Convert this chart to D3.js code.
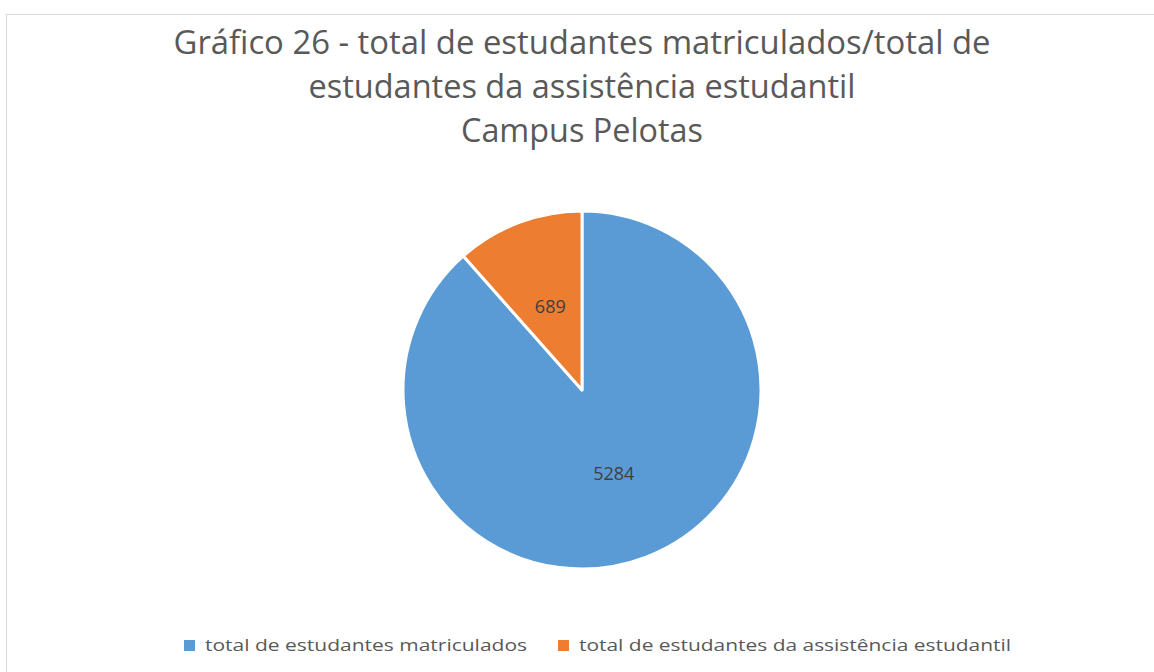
<!DOCTYPE html>
<html>
<head>
<meta charset="utf-8">
<script src="https://cdn.jsdelivr.net/npm/d3@7"></script>
<style>
  body { margin: 0; background: #fff; }
  svg { display: block; font-family: "Open Sans", "Noto Sans", sans-serif; }
</style>
</head>
<body>
<div id="chart"></div>
<script>
// Chart values
var categories = ["total de estudantes matriculados", "total de estudantes da assistência estudantil"];
var values = [5284, 689];
var colors = ["#5b9bd5", "#ed7d31"];
var titleLines = ["Gráfico 26 - total de estudantes matriculados/total de",
                  "estudantes da assistência estudantil",
                  "Campus Pelotas"];

var width = 1154, height = 672;
var cx = 582, cy = 390, radius = 179;

var svg = d3.select("#chart")
  .append("svg")
  .attr("width", width)
  .attr("height", height);

// chart area border
svg.append("rect")
  .attr("x", 6.5)
  .attr("y", 14.5)
  .attr("width", width)
  .attr("height", height)
  .attr("fill", "#fff")
  .attr("stroke", "#d9d9d9");

// title
svg.selectAll(".title")
  .data(titleLines)
  .enter().append("text")
  .attr("class", "title")
  .attr("x", 582)
  .attr("y", function(d, i) { return 54 + i * 44; })
  .attr("text-anchor", "middle")
  .attr("font-size", 32)
  .attr("fill", "#595959")
  .attr("textLength", function(d, i) { return [817, 547, 242][i]; })
  .attr("lengthAdjust", "spacingAndGlyphs")
  .text(function(d) { return d; });

// pie
var pie = d3.pie().sort(null).value(function(d) { return d; });
var arc = d3.arc().innerRadius(0).outerRadius(radius);
var labelArc = d3.arc().innerRadius(radius * 0.5).outerRadius(radius * 0.5);

var g = svg.append("g").attr("transform", "translate(" + cx + "," + cy + ")");
var arcs = pie(values);

g.selectAll("path")
  .data(arcs)
  .enter().append("path")
  .attr("d", arc)
  .attr("fill", function(d, i) { return colors[i]; })
  .attr("stroke", "#fff")
  .attr("stroke-width", 3)
  .attr("stroke-linejoin", "round");

g.selectAll(".lbl")
  .data(arcs)
  .enter().append("text")
  .attr("class", "lbl")
  .attr("transform", function(d) { return "translate(" + labelArc.centroid(d) + ")"; })
  .attr("dy", "0.35em")
  .attr("text-anchor", "middle")
  .attr("font-size", 18)
  .attr("fill", "#404040")
  .text(function(d) { return d.data; });

// legend
var legendX = [184, 558];
var leg = svg.selectAll(".leg")
  .data(categories)
  .enter().append("g")
  .attr("class", "leg")
  .attr("transform", function(d, i) { return "translate(" + legendX[i] + ",640)"; });

leg.append("rect")
  .attr("width", 11)
  .attr("height", 11)
  .attr("fill", function(d, i) { return colors[i]; });

leg.append("text")
  .attr("x", 21)
  .attr("y", 11)
  .attr("font-size", 16)
  .attr("fill", "#595959")
  .attr("textLength", function(d, i) { return [322, 432][i]; })
  .attr("lengthAdjust", "spacingAndGlyphs")
  .text(function(d) { return d; });
</script>
</body>
</html>
